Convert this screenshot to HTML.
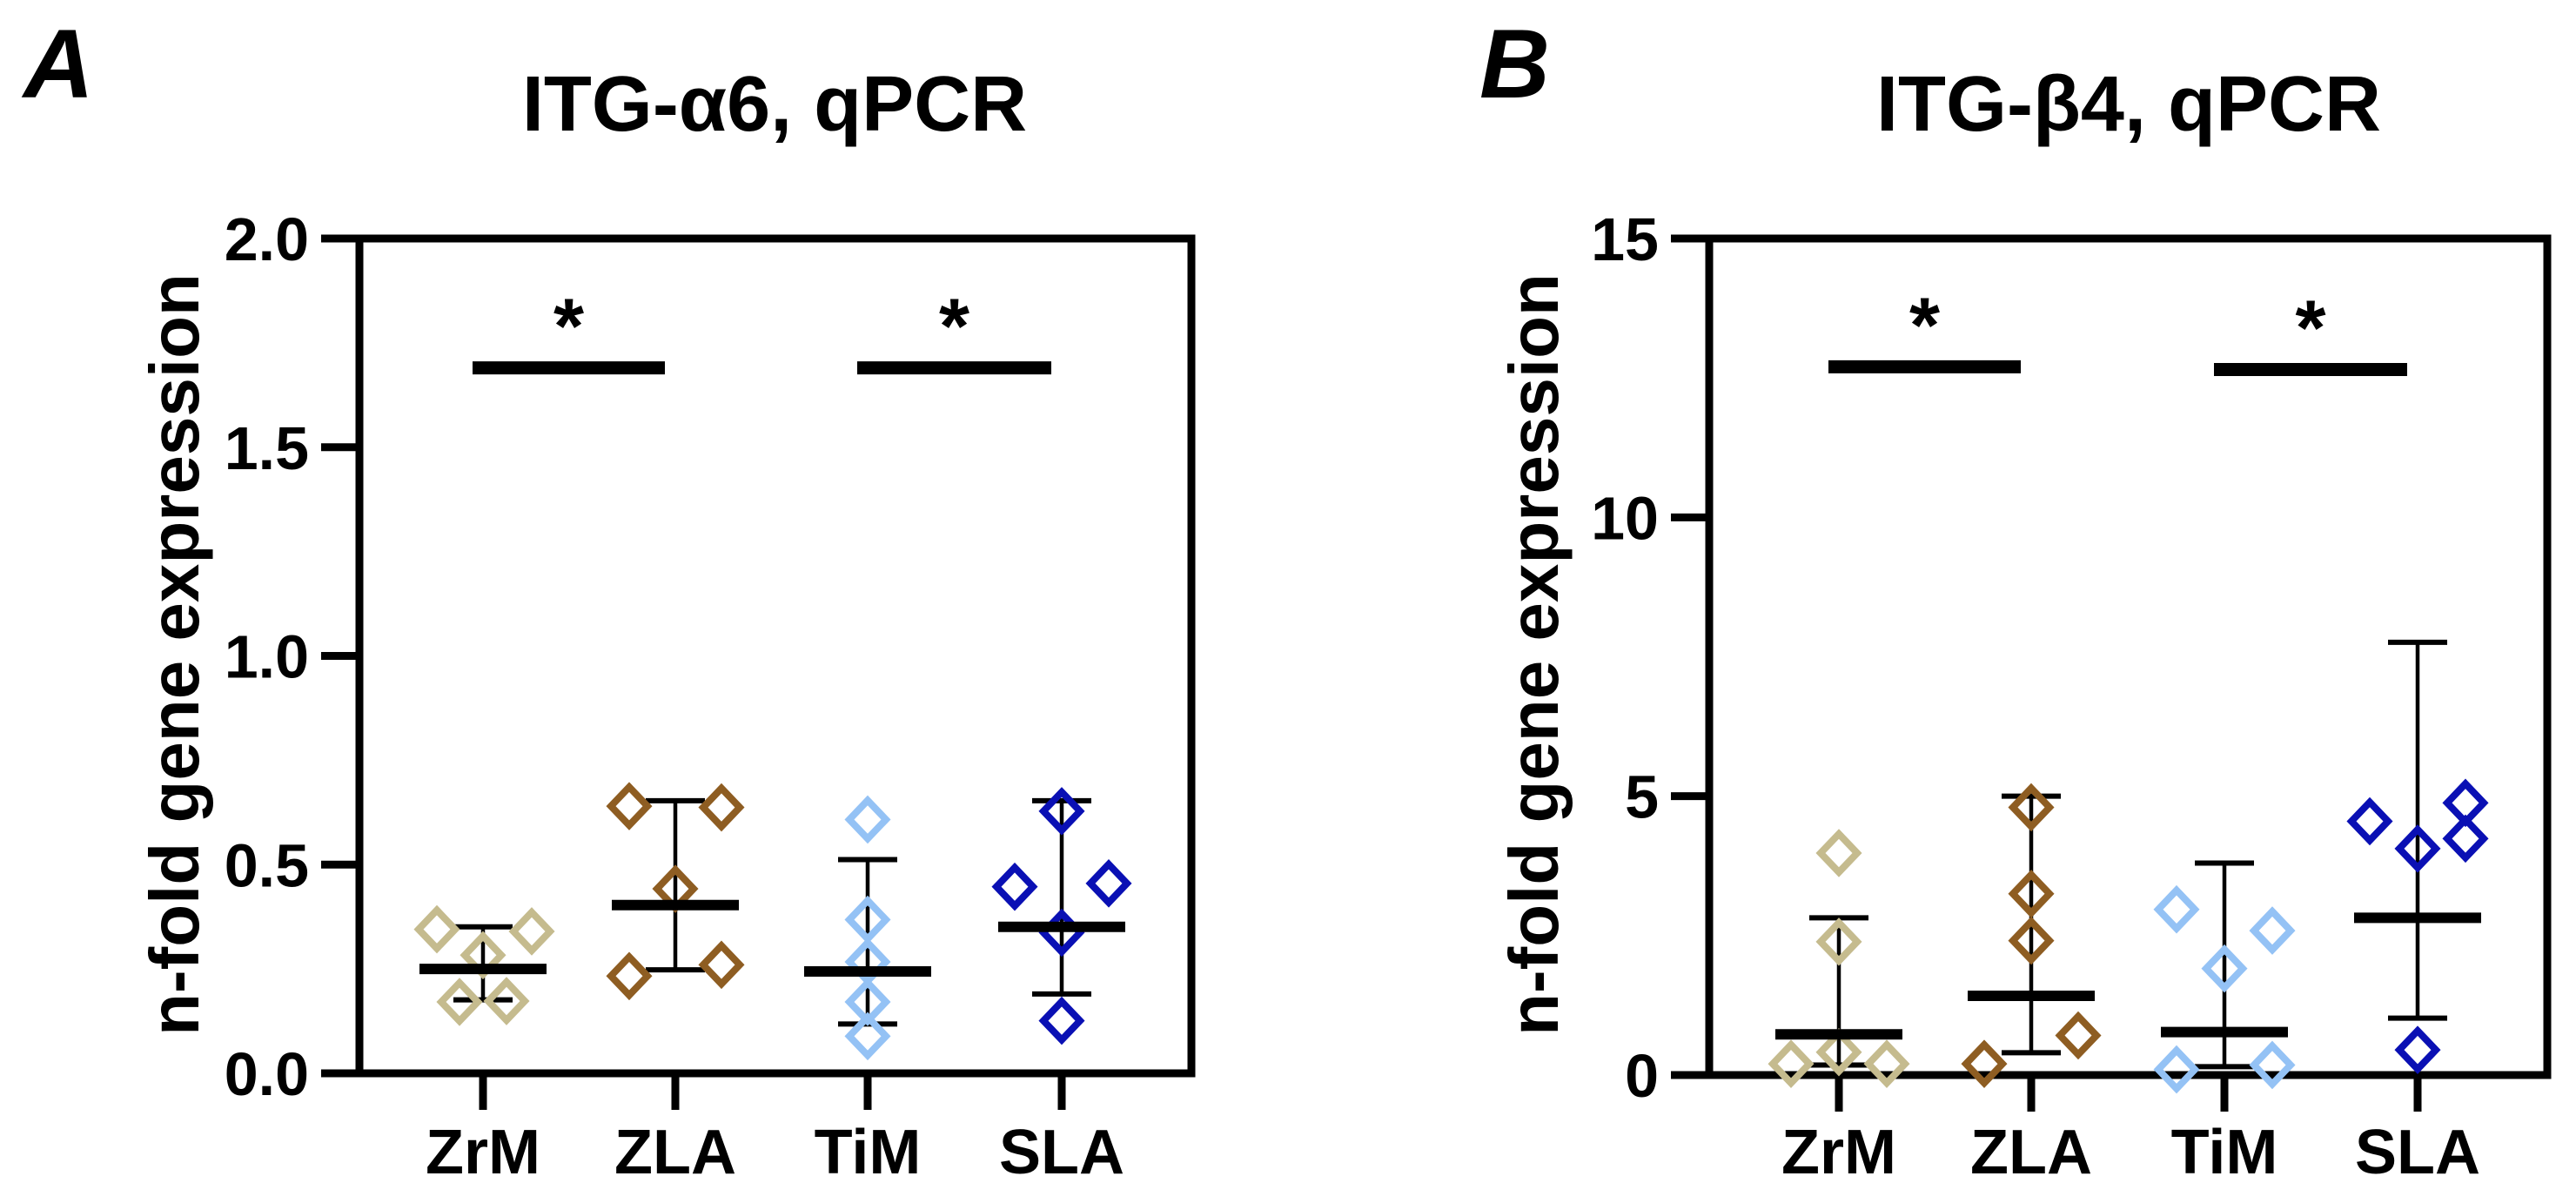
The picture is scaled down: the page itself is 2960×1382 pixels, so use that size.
<!DOCTYPE html>
<html><head><meta charset="utf-8"><style>
html,body{margin:0;padding:0;background:#fff;}
svg{display:block;font-family:"Liberation Sans",Arial,sans-serif;font-weight:bold;}
</style></head><body>
<svg id="fig" width="2960" height="1382" viewBox="0 0 2960 1382" xmlns="http://www.w3.org/2000/svg">
<text x="27" y="112" font-size="112" font-style="italic">A</text>
<text x="1700" y="112" font-size="112" font-style="italic">B</text>
<text x="890" y="150" font-size="90" text-anchor="middle">ITG-α6, qPCR</text>
<text x="2446" y="150" font-size="90" text-anchor="middle">ITG-β4, qPCR</text>
<text transform="translate(228,752) rotate(-90)" font-size="80" text-anchor="middle">n-fold gene expression</text>
<text transform="translate(1790,752) rotate(-90)" font-size="80" text-anchor="middle">n-fold gene expression</text>
</svg>
<script>
const categories = ["ZrM","ZLA","TiM","SLA"];
const colors = ["#c5bb8e","#8e5d22","#94c2f5","#0a10b4"];
// Panel A values
const aPoints = [[0.345,0.34,0.283,0.171,0.173],[0.64,0.637,0.442,0.233,0.26],[0.608,0.368,0.267,0.171,0.089],[0.628,0.447,0.455,0.337,0.126]];
const aMeans = [0.25,0.403,0.244,0.351];
const aErrHigh = [0.351,0.653,0.512,0.653];
const aErrLow = [0.176,0.248,0.118,0.19];
const aTicks = [0,0.5,1.0,1.5,2.0];
const aTickLabels = ["0.0","0.5","1.0","1.5","2.0"];
const aSig = [[0,1,1.69],[2,3,1.69]];
// Panel B values
const bPoints = [[3.98,2.39,0.41,0.2,0.2],[4.8,3.25,2.41,0.2,0.71],[2.97,2.59,1.91,0.1,0.18],[4.55,4.88,4.24,4.06,0.45]];
const bMeans = [0.73,1.42,0.77,2.82];
const bErrHigh = [2.82,5.0,3.8,7.76];
const bErrLow = [0.18,0.4,0.15,1.02];
const bTicks = [0,5,10,15];
const bTickLabels = ["0","5","10","15"];
const bSig = [[0,1,12.7],[2,3,12.65]];
// jitter offsets (layout, in px)
const jitter = [[-53,56,0,-27,27],[-53,53,0,-53,53],[0,0,0,0,0],[0,-54,54,0,0]];
const jitterB = [[0,0,0,-55,55],[0,0,0,-54,54],[-55,55,0,-55,55],[-55,55,55,0,0]];

const NS="http://www.w3.org/2000/svg";
const svg=document.getElementById('fig');
function mk(tag,attrs,parent){const e=document.createElementNS(NS,tag);for(const k in attrs)e.setAttribute(k,attrs[k]);(parent||svg).appendChild(e);return e;}

function panel(cfg){
  const {left,right,top,bottom,ymax,xs,points,means,hi,lo,ticks,labels,sig,jit,key}=cfg;
  const y=v=>bottom-(v/ymax)*(bottom-top);
  const g=mk('g',{});
  
  
  const box=mk('rect',{x:left,y:top,width:right-left,height:bottom-top,fill:'none',stroke:'#000','stroke-width':9},g);
  
  
  ticks.forEach((t,i)=>{
    const l=mk('line',{x1:left-44,x2:left,y1:y(t),y2:y(t),stroke:'#000','stroke-width':9},g);
    
    
    const tx=mk('text',{x:left-58,y:y(t)+25,'font-size':70,'text-anchor':'end'},g);
    tx.textContent=labels[i];
    
    
  });
  categories.forEach((c,i)=>{
    const cx=xs[i];
    const tk=mk('line',{x1:cx,x2:cx,y1:bottom,y2:bottom+42,stroke:'#000','stroke-width':9},g);
    
    
    const tl=mk('text',{x:cx,y:1348,'font-size':72,'text-anchor':'middle'},g);
    tl.textContent=c;
    
    
    const eb=mk('line',{x1:cx,x2:cx,y1:y(hi[i]),y2:y(lo[i]),stroke:'#000','stroke-width':4.5},g);
    
    
    [hi[i],lo[i]].forEach(v=>{
      const cap=mk('line',{x1:cx-34,x2:cx+34,y1:y(v),y2:y(v),stroke:'#000','stroke-width':6},g);
      
      
    });
    points[i].forEach((v,j)=>{
      const px=cx+jit[i][j],py=y(v);
      const d=mk('polygon',{points:`${px},${py-22} ${px+21},${py} ${px},${py+22} ${px-21},${py}`,fill:'none',stroke:colors[i],'stroke-width':8},g);
      
      
    });
    const m=mk('line',{x1:cx-73,x2:cx+73,y1:y(means[i]),y2:y(means[i]),stroke:'#000','stroke-width':12},g);
    
    
  });
  sig.forEach((s,k)=>{
    const x1=xs[s[0]]-12,x2=xs[s[1]]-12,yy=y(s[2]);
    const b=mk('line',{x1:x1,x2:x2,y1:yy,y2:yy,stroke:'#000','stroke-width':15},g);
    
    
    const st=mk('text',{x:(x1+x2)/2,y:yy-17,'font-size':90,'text-anchor':'middle'},g);
    st.textContent='*';
    
    
  });
}
panel({left:413,right:1369,top:274,bottom:1233,ymax:2.0,xs:[555,776,997,1220],points:aPoints,means:aMeans,hi:aErrHigh,lo:aErrLow,ticks:aTicks,labels:aTickLabels,sig:aSig,jit:jitter,key:'a'});
panel({left:1964,right:2927,top:274,bottom:1235,ymax:15,xs:[2113,2334,2556,2778],points:bPoints,means:bMeans,hi:bErrHigh,lo:bErrLow,ticks:bTicks,labels:bTickLabels,sig:bSig,jit:jitterB,key:'b'});
</script>
</body></html>
